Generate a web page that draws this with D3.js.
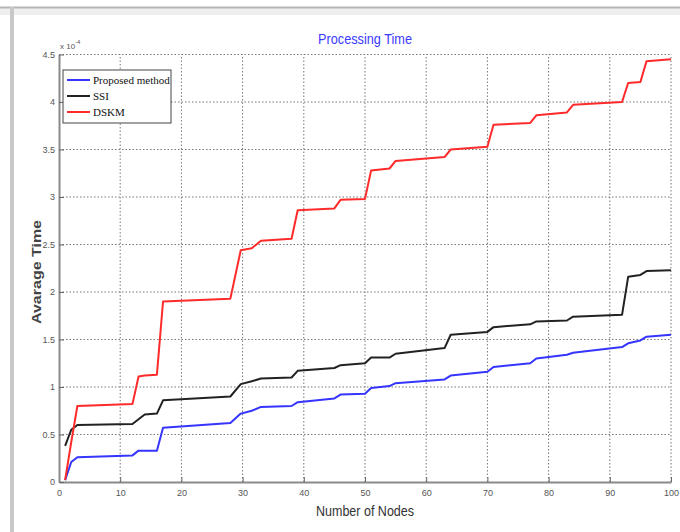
<!DOCTYPE html>
<html>
<head>
<meta charset="utf-8">
<script src="https://cdn.jsdelivr.net/npm/d3@7"></script>
<style>
  body { margin: 0; background: #fff; }
  svg { display: block; }
  .tick text { font-family: "Liberation Sans", Arial, sans-serif; font-size: 9px; fill: #555; }
</style>
</head>
<body>
<svg id="chart" width="680" height="532"></svg>
<script>
// sample nodes shared by every series (values in units of 1e-4)
var nodes = [1, 2, 3, 12, 13, 14, 16, 17, 28, 29.7, 31.5, 33, 38, 39, 45, 46, 50, 51, 54, 55, 63, 64, 70, 71, 77, 78, 83, 84, 92, 93, 95, 96, 100];
var proposed = [0.02, 0.21, 0.26, 0.28, 0.33, 0.33, 0.33, 0.57, 0.62, 0.72, 0.75, 0.79, 0.80, 0.84, 0.88, 0.92, 0.93, 0.99, 1.01, 1.04, 1.08, 1.12, 1.16, 1.21, 1.25, 1.30, 1.34, 1.36, 1.42, 1.46, 1.49, 1.53, 1.55];
var ssi = [0.38, 0.55, 0.60, 0.61, 0.66, 0.71, 0.72, 0.86, 0.90, 1.03, 1.06, 1.09, 1.10, 1.17, 1.20, 1.23, 1.25, 1.31, 1.31, 1.35, 1.41, 1.55, 1.58, 1.63, 1.66, 1.69, 1.70, 1.74, 1.76, 2.16, 2.18, 2.22, 2.23];
var dskm = [0.02, 0.42, 0.80, 0.82, 1.11, 1.12, 1.13, 1.90, 1.93, 2.44, 2.46, 2.54, 2.56, 2.86, 2.88, 2.97, 2.98, 3.28, 3.30, 3.38, 3.42, 3.50, 3.53, 3.76, 3.78, 3.86, 3.89, 3.97, 4.00, 4.20, 4.21, 4.43, 4.45];

var xTicks = [0, 10, 20, 30, 40, 50, 60, 70, 80, 90, 100];
var yTicks = [0, 0.5, 1, 1.5, 2, 2.5, 3, 3.5, 4, 4.5];

var seriesNames = ['Proposed method', 'SSI', 'DSKM'];
var seriesColors = ['#3535ff', '#222222', '#ff2a2a'];
var seriesValues = [proposed, ssi, dskm];

var svg = d3.select('#chart');
var plotLeft = 59, plotRight = 671, plotTop = 54.5, plotBottom = 482;

var x = d3.scaleLinear().domain([0, 100]).range([plotLeft, plotRight]);
var y = d3.scaleLinear().domain([0, 4.5]).range([plotBottom, plotTop]);

// window frame of the screenshot
svg.append('rect').attr('x', 0).attr('y', 7).attr('width', 680).attr('height', 8).attr('fill', '#efefef');
svg.append('line').attr('x1', 0).attr('x2', 680).attr('y1', 7.5).attr('y2', 7.5).attr('stroke', '#b5b5b5').attr('stroke-width', 2);
svg.append('rect').attr('x', 10).attr('y', 7).attr('width', 4).attr('height', 525).attr('fill', '#c8c8c8');

// grid
var grid = svg.append('g').attr('class', 'grid');
grid.selectAll('line.gx')
  .data(xTicks.slice(1))
  .enter()
  .append('line')
  .attr('x1', function(d) { return x(d); })
  .attr('x2', function(d) { return x(d); })
  .attr('y1', plotBottom)
  .attr('y2', plotTop)
  .attr('stroke', '#777')
  .attr('stroke-width', 1)
  .attr('stroke-dasharray', '1.5,2');
grid.selectAll('line.gy')
  .data(yTicks.slice(1))
  .enter()
  .append('line')
  .attr('x1', plotLeft)
  .attr('x2', plotRight)
  .attr('y1', function(d) { return y(d); })
  .attr('y2', function(d) { return y(d); })
  .attr('stroke', '#777')
  .attr('stroke-width', 1)
  .attr('stroke-dasharray', '1.5,2');

// axes
var xAxis = d3.axisBottom(x).tickValues(xTicks).tickSizeInner(-5).tickSizeOuter(0).tickPadding(8);
var yAxis = d3.axisLeft(y).tickValues(yTicks).tickSizeInner(-5).tickSizeOuter(0).tickPadding(4)
  .tickFormat(function(d) { return d3.format('')(d); });

var gx = svg.append('g').attr('transform', 'translate(0,' + plotBottom + ')').call(xAxis);
var gy = svg.append('g').attr('transform', 'translate(' + plotLeft + ',0)').call(yAxis);
[gx, gy].forEach(function(g) {
  g.select('.domain').attr('stroke', '#8a8a8a').attr('stroke-width', 2);
  g.selectAll('.tick line').attr('stroke', '#666');
});

// exponent label
var expo = svg.append('text')
  .attr('x', plotLeft + 1)
  .attr('y', 49)
  .attr('font-family', '"Liberation Sans", Arial, sans-serif')
  .attr('font-size', 8)
  .attr('fill', '#555')
  .text('x 10');
expo.append('tspan').attr('dy', -5).attr('font-size', 6).text('-4');

// series
var line = d3.line()
  .x(function(d, i) { return x(nodes[i]); })
  .y(function(d) { return y(d); });

svg.selectAll('path.series')
  .data(seriesValues)
  .enter()
  .append('path')
  .attr('class', 'series')
  .attr('fill', 'none')
  .attr('stroke', function(d, i) { return seriesColors[i]; })
  .attr('stroke-width', 2)
  .attr('stroke-linejoin', 'round')
  .attr('d', line);

// legend
var legend = svg.append('g').attr('transform', 'translate(63,70)');
legend.append('rect')
  .attr('width', 108)
  .attr('height', 53)
  .attr('fill', '#fff')
  .attr('stroke', '#444')
  .attr('stroke-width', 1);
var entry = legend.selectAll('g.entry')
  .data(seriesNames)
  .enter()
  .append('g')
  .attr('transform', function(d, i) { return 'translate(0,' + (10 + i * 16) + ')'; });
entry.append('line')
  .attr('x1', 4).attr('x2', 27)
  .attr('stroke', function(d, i) { return seriesColors[i]; })
  .attr('stroke-width', 2);
entry.append('text')
  .attr('x', 30)
  .attr('y', 4)
  .attr('font-family', '"Liberation Serif", "Times New Roman", serif')
  .attr('font-size', 11)
  .attr('fill', '#111')
  .text(function(d) { return d; });

// titles
svg.append('text')
  .attr('x', (plotLeft + plotRight) / 2)
  .attr('y', 44)
  .attr('text-anchor', 'middle')
  .attr('font-family', '"Liberation Sans", Arial, sans-serif')
  .attr('font-size', 15)
  .attr('textLength', 94)
  .attr('lengthAdjust', 'spacingAndGlyphs')
  .attr('fill', '#3a3aff')
  .text('Processing Time');

svg.append('text')
  .attr('x', (plotLeft + plotRight) / 2)
  .attr('y', 516)
  .attr('text-anchor', 'middle')
  .attr('font-family', '"Liberation Sans", Arial, sans-serif')
  .attr('font-size', 15)
  .attr('textLength', 98)
  .attr('lengthAdjust', 'spacingAndGlyphs')
  .attr('fill', '#333')
  .text('Number of Nodes');

svg.append('text')
  .attr('transform', 'translate(41,272) rotate(-90)')
  .attr('text-anchor', 'middle')
  .attr('font-family', '"Liberation Sans", Arial, sans-serif')
  .attr('font-weight', 'bold')
  .attr('font-size', 13)
  .attr('textLength', 104)
  .attr('lengthAdjust', 'spacingAndGlyphs')
  .attr('fill', '#444')
  .text('Avarage Time');
</script>
</body>
</html>
